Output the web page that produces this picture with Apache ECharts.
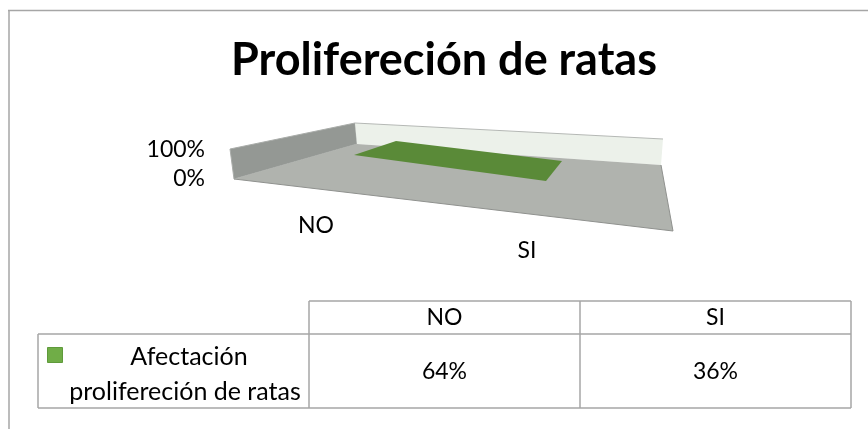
<!DOCTYPE html>
<html>
<head>
<meta charset="utf-8">
<style>
  html, body { margin: 0; padding: 0; background: #fff; }
  #chart { width: 868px; height: 429px; }
</style>
<script src="https://cdn.jsdelivr.net/npm/echarts@6/dist/echarts.min.js"></script>
</head>
<body>
<div id="chart"></div>
<script>
var chartTitle = 'Prolifereción de ratas';
var seriesName = ['Afectación', 'prolifereción de ratas'];
var categories = ['NO', 'SI'];
var values = [64, 36];
var yTicks = [0, 100];

var FONT = 'Lato, "Open Sans", sans-serif';
var LINE = '#a6a6a6';
var chart = echarts.init(document.getElementById('chart'));

// 表格
var tableX = [309, 580, 851];
var tableY = [301, 334, 408];
function hline(x1, x2, y) {
  return { type: 'line', shape: { x1: x1, y1: y, x2: x2, y2: y }, style: { stroke: LINE, lineWidth: 1.5 } };
}
function vline(x, y1, y2) {
  return { type: 'line', shape: { x1: x, y1: y1, x2: x, y2: y2 }, style: { stroke: LINE, lineWidth: 1.5 } };
}
function label(x, y, text, size) {
  return {
    type: 'text', x: x, y: y,
    style: { text: text, fill: '#000', font: (size || 23) + 'px ' + FONT, textAlign: 'center', textVerticalAlign: 'middle' }
  };
}

var graphics = [
  // 外框
  hline(8, 868, 10.5), vline(9, 10, 429),
  // 三维底座和两面墙
  { type: 'polygon', shape: { points: [[230, 149], [355, 123], [357, 144], [234, 179]] }, style: { fill: '#949894', stroke: '#a9aca9' } },
  { type: 'polygon', shape: { points: [[355, 123], [663, 139], [661, 165], [357, 144]] }, style: { fill: '#ecf1ea' } },
  { type: 'line', shape: { x1: 355, y1: 123, x2: 663, y2: 139 }, style: { stroke: '#b5b8b5', lineWidth: 1 } },
  { type: 'polygon', shape: { points: [[234, 179], [357, 144], [661, 165], [673, 231]] }, style: { fill: '#b0b3ae' } },
  { type: 'polyline', shape: { points: [[234, 179], [673, 231], [661, 165]] }, style: { stroke: '#8f918e', lineWidth: 1, fill: 'none' } },
  // 表格线
  hline(309, 851, tableY[0]), hline(38, 851, tableY[1]), hline(38, 851, tableY[2]),
  vline(38, tableY[1], tableY[2]), vline(309, tableY[0], tableY[2]),
  vline(580, tableY[0], tableY[2]), vline(851, tableY[0], tableY[2]),
  // 图例
  { type: 'rect', shape: { x: 47.5, y: 347.5, width: 15, height: 15 }, style: { fill: '#70ad47', stroke: '#5f9a3b' } },
  label(189, 357, seriesName[0], 25),
  label(185, 392, seriesName[1], 25)
];

// 表格内容
categories.forEach(function (c, i) {
  graphics.push(label((tableX[i] + tableX[i + 1]) / 2, 318, c));
  graphics.push(label((tableX[i] + tableX[i + 1]) / 2, 372, values[i] + '%'));
});

var option = {
  animation: false,
  title: {
    text: chartTitle,
    left: 444, top: 33, textAlign: 'center',
    textStyle: { fontFamily: FONT, fontWeight: 'bold', fontSize: 45, color: '#000' }
  },
  grid: { left: 258, width: 384, top: 150, height: 29 },
  xAxis: { type: 'category', data: categories, axisLine: { show: false }, axisTick: { show: false }, axisLabel: { show: false } },
  yAxis: {
    type: 'value', min: yTicks[0], max: yTicks[1], interval: yTicks[1],
    splitLine: { show: false }, axisLine: { show: false }, axisTick: { show: false },
    axisLabel: { margin: 53, fontFamily: FONT, fontSize: 23, color: '#000', formatter: '{value}%' }
  },
  graphic: graphics,
  series: [{
    type: 'custom',
    clip: false,
    silent: true,
    z: 5,
    data: values,
    renderItem: function (params, api) {
      var i = params.dataIndex;
      var a = api.coord([0, 0]);
      var b = api.coord([1, 0]);
      var c = api.coord([i, 0]);
      var children = [{
        type: 'text',
        style: {
          text: categories[i],
          x: c[0] + (i === 0 ? -38 : -19),
          y: c[1] + (i === 0 ? 47 : 72),
          fill: '#000', font: '23px ' + FONT, textAlign: 'center', textVerticalAlign: 'middle'
        }
      }];
      // 图里面是平的一块绿色,只画一次
      if (i === 0) {
        children.push({
          type: 'polygon',
          shape: { points: [[a[0], a[1] - 24], [a[0] + 42, a[1] - 38], [b[0] + 16, b[1] - 18], [b[0], b[1] + 2]] },
          style: { fill: '#5a8a38' }
        });
      }
      return { type: 'group', children: children };
    }
  }]
};
option.title.left = 439;
chart.setOption(option);
</script>
</body>
</html>
